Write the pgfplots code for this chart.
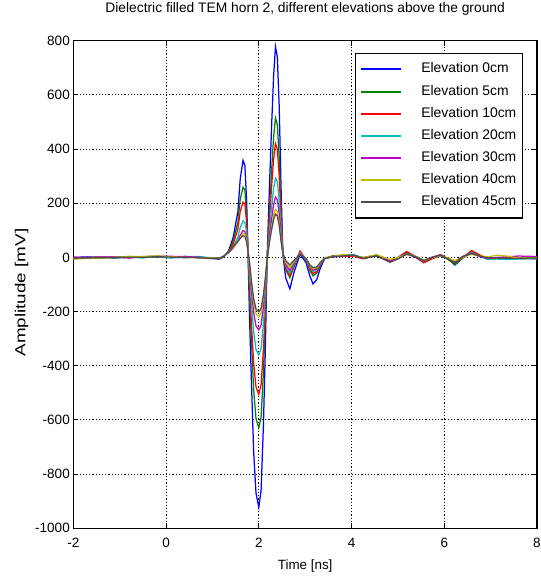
\documentclass[border=0pt]{standalone}
\usepackage{pgfplots}
\usepackage{pgfplotstable}
\pgfplotsset{compat=1.18}
\usepackage{fontspec}
\setmainfont{Liberation Sans}
\definecolor{mblue}{rgb}{0,0,1}
\definecolor{mgreen}{rgb}{0,0.5,0}
\definecolor{mred}{rgb}{1,0,0}
\definecolor{mcyan}{rgb}{0,0.75,0.75}
\definecolor{mmag}{rgb}{0.75,0,0.75}
\definecolor{myel}{rgb}{0.75,0.75,0}
\definecolor{mgray}{rgb}{0.3,0.3,0.3}
\pgfplotstableread{
t B G R C M Y K
-2.00 0 -2 1 -4 -2 -6 -3
-1.70 2 0 -2 -3 0 -4 -2
-1.40 -1 1 0 -2 2 -3 -1
-1.10 -2 -1 2 0 1 0 0
-0.80 1 0 -1 2 -2 4 1
-0.50 0 2 1 -2 3 3 0
-0.20 3 2 3 4 5 6 3
0.10 -1 1 0 -2 4 2 1
0.40 1 -1 2 4 3 0 0
0.70 0 2 -1 3 1 -1 -1
0.95 -4 -3 -2 -1 -3 -2 -3
1.15 -6 -5 -4 -3 -3 -3 -3
1.25 2 3 4 5 6 6 5
1.35 25 22 20 18 18 20 20
1.45 75 60 50 38 35 38 40
1.55 170 130 105 75 60 58 60
1.60 290 215 170 110 82 72 70
1.66 358 259 204 135 99 88 80
1.70 340 248 198 130 96 86 77
1.74 200 150 125 90 70 62 55
1.77 0 10 20 20 20 20 20
1.80 -220 -140 -100 -60 -35 -25 -15
1.84 -450 -300 -240 -165 -120 -95 -85
1.89 -720 -490 -390 -275 -205 -168 -152
1.94 -870 -595 -478 -340 -253 -208 -190
2.00 -923 -629 -506 -360 -268 -220 -201
2.05 -860 -590 -470 -336 -250 -205 -188
2.10 -620 -425 -340 -245 -182 -150 -138
2.14 -350 -240 -192 -138 -103 -85 -78
2.18 0 -10 -10 -5 -5 -5 -5
2.23 260 170 140 100 75 60 55
2.28 500 330 270 190 145 115 105
2.32 670 445 362 255 195 155 140
2.36 778 515 420 293 223 177 160
2.40 740 490 400 280 213 170 153
2.44 560 370 303 213 162 130 118
2.48 260 175 145 105 82 66 60
2.52 10 15 15 15 15 15 15
2.58 -75 -45 -40 -30 -25 -18 -12
2.67 -116 -75 -68 -58 -48 -38 -28
2.76 -55 -35 -30 -25 -20 -15 -10
2.89 12 20 24 18 16 14 12
3.02 -20 -10 -8 -5 -5 -5 -5
3.10 -68 -48 -42 -36 -32 -30 -27
3.17 -98 -68 -60 -52 -47 -42 -38
3.25 -82 -58 -52 -45 -42 -38 -35
3.33 -38 -28 -25 -22 -20 -20 -18
3.42 -5 -3 -4 -5 -3 -2 -4
3.60 4 6 5 3 2 4 3
3.85 6 8 5 9 6 10 6
4.05 8 5 4 10 8 6 8
4.25 -3 -4 -5 -2 -1 0 -3
4.54 5 6 8 9 7 10 6
4.83 -12 -15 -14 -10 -12 -8 -18
5.00 -2 -3 0 -2 -1 0 -6
5.19 15 18 22 14 12 10 12
5.38 0 2 3 4 2 5 3
5.56 -18 -16 -20 -14 -12 -10 -12
5.75 -2 -3 -4 0 2 -1 0
5.92 8 10 6 7 10 8 9
6.08 -5 -8 -6 -5 -4 -2 -6
6.23 -28 -25 -20 -18 -15 -12 -20
6.40 -2 -3 0 2 4 0 3
6.59 20 24 25 18 15 12 14
6.78 5 6 8 3 2 5 4
6.95 -5 -3 -6 -8 -4 2 -2
7.13 -3 -2 -4 -6 0 8 -2
7.35 -5 -3 -2 -8 2 5 -3
7.60 -2 -4 -3 -6 5 -2 -4
7.85 -3 -2 -5 -5 4 -1 -2
8.00 -4 -3 -4 -6 3 -2 -3
}\data
\begin{document}
\begin{tikzpicture}
\begin{axis}[
  at={(0pt,0pt)}, anchor=south west,
  scale only axis, width=463.7pt, height=487.6pt,
  xmin=-2, xmax=8, ymin=-1000, ymax=800,
  xtick={-2,0,2,4,6,8},
  ytick={-1000,-800,-600,-400,-200,0,200,400,600,800},
  /pgf/number format/assume math mode=true,
  /pgf/number format/1000 sep={},
  tick label style={font=\fontsize{13.5}{15}\selectfont},
  xticklabel style={yshift=-6pt},
  tick align=inside, major tick length=5pt,
  tick style={black, line width=0.9pt},
  axis line style={black, line width=1.1pt},
  grid=major,
  major grid style={black, line width=0.9pt, dash pattern=on 1.2pt off 2pt},
  title={Dielectric filled TEM horn 2, different elevations above the ground},
  title style={font=\fontsize{13.8}{15}\selectfont, at={(axis description cs:0.5,1)}, anchor=center, yshift=25.7pt},
  xlabel={Time [ns]},
  xlabel style={font=\fontsize{13.4}{15}\selectfont, at={(axis description cs:0.5,0)}, anchor=center, yshift=-37.7pt},
  ylabel={\scalebox{1.3}[1]{Amplitude [mV]}},
  ylabel style={font=\fontsize{14.5}{16}\selectfont, at={(ticklabel cs:0.4836)}},
  legend image code/.code={\draw[#1,/tikz/.cd,line width=2pt,line cap=butt,solid] (0pt,0pt) -- (40pt,0pt);},
  legend style={at={(rel axis cs:0.9697,0.975)}, anchor=north east, draw=black, fill=white,
    font=\fontsize{13.9}{16}\selectfont, inner xsep=5pt, inner ysep=8.5pt, row sep=7.1pt,
    nodes={inner sep=1pt, text height=10pt, text depth=3pt},
    cells={anchor=west},
    /tikz/every odd column/.append style={column sep=18pt}},
  every axis legend/.append style={line width=1.2pt},
  every axis plot/.append style={line width=1.25pt},
]
\addplot[mblue] table[x=t,y=B]{\data};
\addplot[mgreen] table[x=t,y=G]{\data};
\addplot[mred] table[x=t,y=R]{\data};
\addplot[mcyan] table[x=t,y=C]{\data};
\addplot[mmag] table[x=t,y=M]{\data};
\addplot[myel] table[x=t,y=Y]{\data};
\addplot[mgray] table[x=t,y=K]{\data};
\legend{Elevation 0cm,Elevation 5cm,Elevation 10cm,Elevation 20cm,Elevation 30cm,Elevation 40cm,Elevation 45cm}
\end{axis}
\pgfresetboundingbox
\useasboundingbox (-73.3pt,-50.7pt) rectangle (467.7pt,528.3pt);
\end{tikzpicture}
\end{document}
